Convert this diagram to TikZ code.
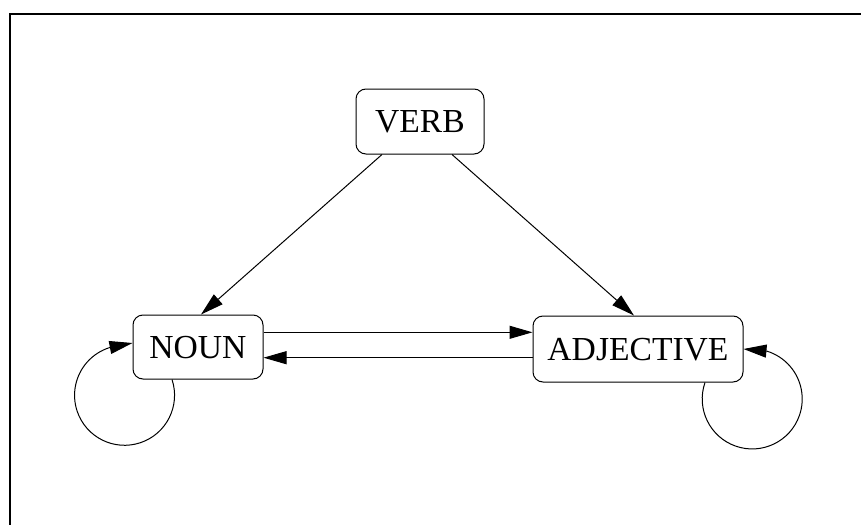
\documentclass[tikz,border=0pt]{standalone}
\usepackage{fontspec}
\setmainfont{Liberation Serif}
\usetikzlibrary{arrows.meta,calc}
\begin{document}
\begin{tikzpicture}[x=0.75pt,y=-0.75pt,
  state/.style={draw, line width=0.75pt, rounded corners=7.5pt, inner sep=0pt,
    font=\fontsize{25.2}{30}\selectfont, text height=16.7pt, text depth=0pt},
  arr/.style={line width=0.75pt, -{Triangle[length=17.25pt,width=9.75pt]}},
  loopline/.style={line width=0.75pt}]
\useasboundingbox (0,0) rectangle (861,525);

% outer frame (top and left edges)
\draw[line width=1.5pt] (10,525) -- (10,14) -- (861,14);

% word-class states
\node[state, minimum width=96pt, minimum height=48.75pt] (verb) at (420,121.5) {VERB};
\node[state, minimum width=97.5pt, minimum height=48pt] (noun) at (198,347) {NOUN};
\node[state, minimum width=157.5pt, minimum height=49.5pt] (adj) at (638,349) {ADJECTIVE};

% transitions
\draw[arr] ($(verb.south)+(-38,0)$) -- ($(noun.north)+(3,0)$);
\draw[arr] ($(verb.south)+(32,0)$) -- ($(adj.north)+(-4,0)$);
\draw[arr] ($(noun.east)+(0,-14.7)$) -- ($(adj.west)+(0,-16.7)$);
\draw[arr] ($(adj.west)+(0,8.7)$) -- ($(noun.east)+(0,10.7)$);

% self loops
\draw[arr] ($(noun.south)+(-26,0)$) arc[start angle=18.4, end angle=-253, radius=37.5pt]
  -- ($(noun.west)+(0,-4)$);
\draw[arr] ($(adj.south)+(67,0)$) arc[start angle=160.8, end angle=433, radius=37.5pt]
  -- (adj.east);
\end{tikzpicture}
\end{document}
